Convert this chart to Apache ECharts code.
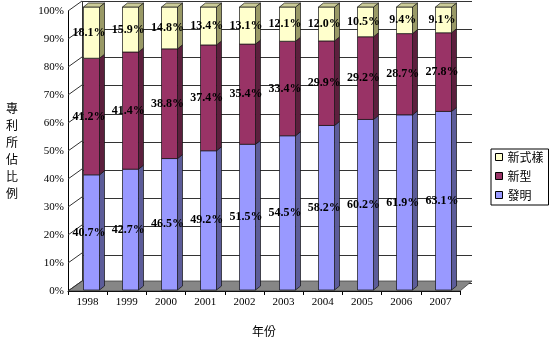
<!DOCTYPE html>
<html><head><meta charset="utf-8">
<script src="https://cdn.jsdelivr.net/npm/echarts@6/dist/echarts.min.js"></script>
<style>html,body{margin:0;padding:0;background:#fff}#c{width:550px;height:342px}</style>
</head><body><div id="c"></div>
<script>
const years = ['1998','1999','2000','2001','2002','2003','2004','2005','2006','2007'];
const invention = [40.7,42.7,46.5,49.2,51.5,54.5,58.2,60.2,61.9,63.1];
const utility   = [41.2,41.4,38.8,37.4,35.4,33.4,29.9,29.2,28.7,27.8];
const design    = [18.1,15.9,14.8,13.4,13.1,12.1,12.0,10.5,9.4,9.1];
const yTicks = [0,10,20,30,40,50,60,70,80,90,100];
const seriesNames = ['發明','新型','新式樣'];
const seriesValues = [invention, utility, design];
const faceColors = [
  {front:'#9999FF', side:'#5C5C99', top:'#7A7ACC'},
  {front:'#993366', side:'#5C1F3D', top:'#7A2952'},
  {front:'#FFFFCC', side:'#999966', top:'#CCCC99'}
];

const DX = 5, DY = -4, BW = 16;
const serif = '"Liberation Serif","DejaVu Serif",serif';
const cjk = '"Noto Sans CJK TC","Noto Sans CJK SC",sans-serif';

function barSeries(idx){
  const data = years.map((y,i)=>{
    let tot = 0; seriesValues.forEach(a=>tot+=a[i]);
    let base = 0; for(let k=0;k<idx;k++) base += seriesValues[k][i];
    const v = seriesValues[idx][i];
    return [i, base/tot*100, (base+v)/tot*100, v];
  });
  const c = faceColors[idx];
  const isTop = idx === seriesValues.length-1;
  return {
    type:'custom', name: seriesNames[idx], xAxisIndex:2, yAxisIndex:2, z:5+idx,
    itemStyle:{color:c.front}, encode:{x:0, y:[1,2]}, data,
    renderItem(params, api){
      const i = api.value(0), lo = api.value(1), hi = api.value(2), v = api.value(3);
      const pLo = api.coord([i, lo]), pHi = api.coord([i, hi]);
      const x0 = Math.round(pLo[0]-BW/2)+0.5, x1 = x0+BW;
      const yl = pLo[1], yh = pHi[1];
      const st = {stroke:'#111', lineWidth:0.7};
      const ch = [
        {type:'polygon', shape:{points:[[x1,yl],[x1+DX,yl+DY],[x1+DX,yh+DY],[x1,yh]]}, style:Object.assign({fill:c.side},st)},
        {type:'rect', shape:{x:x0,y:yh,width:BW,height:yl-yh}, style:Object.assign({fill:c.front},st)}
      ];
      if(isTop) ch.push({type:'polygon', shape:{points:[[x0,yh],[x0+DX,yh+DY],[x1+DX,yh+DY],[x1,yh]]}, style:Object.assign({fill:c.top},st)});
      ch.push({type:'text', x:pLo[0]-1.5, y:(yl+yh)/2, z2:10, style:{text:v.toFixed(1)+'%', font:'bold 12px '+serif, fill:'#000', align:'center', verticalAlign:'middle'}});
      return {type:'group', children:ch};
    }
  };
}

const decor = {
  type:'custom', xAxisIndex:0, yAxisIndex:0, z:2, silent:true, legendHoverLink:false,
  data: yTicks.map(t=>[0,t]),
  renderItem(params, api){
    const cs = params.coordSys;
    const p = api.coord([0, api.value(1)]);
    const ch = [{type:'line', shape:{x1:cs.x, y1:p[1], x2:cs.x+14, y2:p[1]-10}, style:{stroke:'#333', lineWidth:1}}];
    if(params.dataIndex===0){
      const yb = cs.y+cs.height;
      ch.unshift({type:'polygon', shape:{points:[[cs.x,yb],[cs.x+14,yb-10],[cs.x+cs.width+12,yb-10],[cs.x+cs.width,yb]]}, style:{fill:'#868686', stroke:'#333', lineWidth:0.7}});
      ch.push({type:'line', shape:{x1:cs.x+14.5, y1:yb-10, x2:cs.x+14.5, y2:cs.y-10}, style:{stroke:'#333', lineWidth:1}});
    }
    return {type:'group', children:ch};
  }
};

const chart = echarts.init(document.getElementById('c'), null, {renderer:'canvas'});
chart.setOption({
  animation:false,
  backgroundColor:'#fff',
  grid:[
    {left:68, width:392, top:11, bottom:49},
    {left:82, width:390, top:1, bottom:59},
    {left:71, width:392, top:7, bottom:52}
  ],
  xAxis:[
    {gridIndex:0, type:'category', data:years, boundaryGap:true,
     axisLine:{lineStyle:{color:'#000', width:1}}, axisTick:{show:true, length:4, lineStyle:{color:'#000'}},
     axisLabel:{color:'#000', fontFamily:serif, fontSize:11, margin:6},
     name:'年份', nameLocation:'middle', nameGap:34, nameTextStyle:{color:'#000', fontFamily:cjk, fontSize:12}},
    {gridIndex:1, type:'category', data:years, show:false},
    {gridIndex:2, type:'category', data:years, show:false}
  ],
  yAxis:[
    {gridIndex:0, type:'value', min:0, max:100, interval:10,
     axisLine:{show:true, lineStyle:{color:'#000'}}, axisTick:{show:false}, splitLine:{show:false},
     axisLabel:{color:'#000', fontFamily:serif, fontSize:11, margin:4, formatter:'{value}%'}},
    {gridIndex:1, type:'value', min:0, max:100, interval:10,
     axisLine:{show:false}, axisTick:{show:false}, axisLabel:{show:false},
     splitLine:{show:true, lineStyle:{color:'#333', width:1}}},
    {gridIndex:2, type:'value', min:0, max:100, show:false, splitLine:{show:false}}
  ],
  legend:{
    orient:'vertical', left:491, top:149,
    data:['新式樣','新型','發明'],
    itemWidth:7, itemHeight:7, itemGap:7, icon:'rect',
    itemStyle:{borderColor:'#000', borderWidth:1},
    padding:[2,5,4,4], borderColor:'#000', borderWidth:1,
    textStyle:{color:'#000', fontFamily:cjk, fontSize:12, lineHeight:12}
  },
  graphic:[
    {type:'text', left:6, top:100, style:{text:'專\n利\n所\n佔\n比\n例', font:'12px '+cjk, lineHeight:17, fill:'#000'}}
  ],
  series:[decor, barSeries(0), barSeries(1), barSeries(2)]
});
</script></body></html>
